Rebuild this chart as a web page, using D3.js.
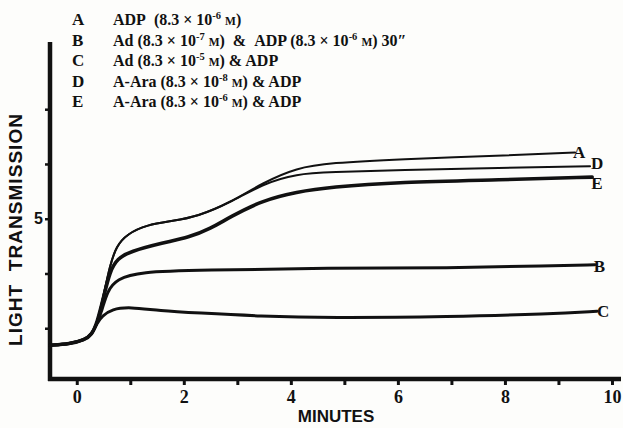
<!DOCTYPE html>
<html>
<head>
<meta charset="utf-8">
<script src="https://cdn.jsdelivr.net/npm/d3@7"></script>
<style>
  body { margin: 0; background: #fdfdfb; }
  svg { display: block; }
</style>
</head>
<body>
<svg id="chart" width="623" height="428"></svg>
<script>
// curves, [minutes, transmission]
const seriesA = [[-0.5,2.69],[-0.13,2.71],[0.15,2.79],[0.28,2.88],[0.38,3.10],[0.49,3.55],[0.62,4.15],[0.74,4.50],[0.94,4.72],[1.31,4.89],[1.80,4.96],[2.25,5.04],[2.86,5.29],[3.48,5.66],[4.11,5.93],[4.73,6.02],[6.04,6.09],[7.91,6.15],[9.31,6.21]];
const seriesD = [[-0.5,2.69],[-0.13,2.71],[0.15,2.79],[0.28,2.88],[0.38,3.10],[0.49,3.55],[0.62,4.15],[0.74,4.50],[0.94,4.72],[1.31,4.89],[1.80,4.96],[2.25,5.04],[2.86,5.29],[3.48,5.64],[4.11,5.82],[4.73,5.85],[6.04,5.89],[7.91,5.93],[9.59,5.96]];
const seriesE = [[-0.5,2.69],[-0.13,2.71],[0.15,2.79],[0.28,2.88],[0.38,3.10],[0.49,3.52],[0.62,4.05],[0.76,4.27],[0.99,4.40],[1.61,4.56],[2.10,4.66],[2.50,4.82],[2.86,5.03],[3.48,5.34],[4.11,5.49],[4.73,5.58],[6.04,5.67],[7.91,5.71],[9.63,5.76]];
const seriesB = [[-0.5,2.69],[-0.13,2.71],[0.15,2.79],[0.28,2.88],[0.38,3.10],[0.47,3.32],[0.57,3.68],[0.75,3.90],[1.18,4.03],[2.30,4.06],[4.73,4.10],[6.97,4.10],[8.84,4.14],[9.68,4.16]];
const seriesC = [[-0.5,2.69],[-0.13,2.71],[0.15,2.79],[0.28,2.88],[0.38,3.10],[0.47,3.22],[0.66,3.35],[0.99,3.39],[1.55,3.32],[2.25,3.28],[3.42,3.22],[4.73,3.19],[6.97,3.21],[8.84,3.26],[9.72,3.31]];

const curveKeys = ["A", "D", "E", "B", "C"];
const xTicks = [0, 1, 2, 3, 4, 5, 6, 7, 8, 9, 10];
const xTickLabels = ["0", "", "2", "", "4", "", "6", "", "8", "", "10"];
const yTicks = [3, 4, 5, 6, 7];
const yTickLabels = ["", "", "5", "", ""];

const legendKeys = ["A", "B", "C", "D", "E"];
const legendPre = ["ADP\u00a0\u00a0(8.3 \u00d7 10", "Ad (8.3 \u00d7 10", "Ad (8.3 \u00d7 10", "A-Ara (8.3 \u00d7 10", "A-Ara (8.3 \u00d7 10"];
const legendExp = ["-6", "-7", "-5", "-8", "-6"];
const legendPost = [" M)", " M)\u00a0\u00a0&\u00a0\u00a0ADP (8.3 \u00d7 10", " M) & ADP", " M) & ADP", " M) & ADP"];
const legendExp2 = ["", "-6", "", "", ""];
const legendTail = ["", " M) 30\u2033", "", "", ""];

let chart = d3.select("#chart");

let x = d3.scaleLinear()
    .domain([-0.5, 10.15])
    .range([50, 620]);

let y = d3.scaleLinear()
    .domain([2, 8.2])
    .range([383, 43.5]);

const serif = "'Liberation Serif', 'DejaVu Serif', serif";
const sans = "'Liberation Sans', Arial, sans-serif";

// x axis
let xAxis = d3.axisBottom(x)
    .tickValues(xTicks)
    .tickSize(6)
    .tickPadding(5)
    .tickFormat(function(d, i) { return xTickLabels[i]; });
let xAxisGroup = chart.append("g")
    .attr("transform", "translate(0,379)")
    .call(xAxis);
xAxisGroup.select(".domain")
    .attr("d", "M48,0H621")
    .attr("stroke", "#111")
    .attr("stroke-width", 4.5);
xAxisGroup.selectAll(".tick line")
    .attr("stroke", "#111")
    .attr("stroke-width", 3);
xAxisGroup.selectAll(".tick text")
    .style("font-family", serif)
    .style("font-weight", "bold")
    .style("font-size", "18px")
    .style("fill", "#111");

// y axis
let yAxis = d3.axisLeft(y)
    .tickValues(yTicks)
    .tickSize(5)
    .tickPadding(2)
    .tickFormat(function(d, i) { return yTickLabels[i]; });
let yAxisGroup = chart.append("g")
    .attr("transform", "translate(50,0)")
    .call(yAxis);
yAxisGroup.select(".domain")
    .attr("d", "M0,42V381")
    .attr("stroke", "#111")
    .attr("stroke-width", 4.5);
yAxisGroup.selectAll(".tick line")
    .attr("stroke", "#111")
    .attr("stroke-width", 2.5);
yAxisGroup.selectAll(".tick text")
    .style("font-family", sans)
    .style("font-weight", "bold")
    .style("font-size", "16px")
    .style("fill", "#111");

// axis titles
chart.append("text")
    .text("LIGHT\u00a0\u00a0TRANSMISSION")
    .attr("transform", "translate(22,230) rotate(-90)")
    .attr("text-anchor", "middle")
    .attr("textLength", 232)
    .attr("lengthAdjust", "spacing")
    .style("font-family", sans)
    .style("font-weight", "bold")
    .style("font-size", "19px")
    .style("fill", "#111");

chart.append("text")
    .text("MINUTES")
    .attr("x", 336)
    .attr("y", 422)
    .attr("text-anchor", "middle")
    .style("font-family", sans)
    .style("font-weight", "bold")
    .style("font-size", "17px")
    .style("fill", "#111");

// curves
let curveData = { A: seriesA, D: seriesD, E: seriesE, B: seriesB, C: seriesC };
let curveWidth = { A: 2, D: 2, E: 3.6, B: 3, C: 3 };

let line = d3.line()
    .x(function(d) { return x(d[0]); })
    .y(function(d) { return y(d[1]); })
    .curve(d3.curveBasis);

chart.selectAll("path.curve")
    .data(curveKeys)
    .enter()
    .append("path")
    .attr("class", "curve")
    .attr("d", function(k) { return line(curveData[k]); })
    .attr("fill", "none")
    .attr("stroke", "#111")
    .attr("stroke-width", function(k) { return curveWidth[k]; })
    .attr("stroke-linecap", "round");

// end labels
let endOffset = { A: [-2, 0], D: [1, -3], E: [-1, 6], B: [-1, 1], C: [0, 0] };
chart.selectAll("text.endlabel")
    .data(curveKeys)
    .enter()
    .append("text")
    .attr("class", "endlabel")
    .attr("x", function(k) { let p = curveData[k][curveData[k].length - 1]; return x(p[0]) + endOffset[k][0]; })
    .attr("y", function(k) { let p = curveData[k][curveData[k].length - 1]; return y(p[1]) + endOffset[k][1] + 6; })
    .text(function(k) { return k; })
    .style("font-family", serif)
    .style("font-weight", "bold")
    .style("font-size", "17px")
    .style("fill", "#111");

// legend
let legend = chart.selectAll("g.legend")
    .data(legendKeys)
    .enter()
    .append("g")
    .attr("class", "legend")
    .attr("transform", function(d, i) { return "translate(0," + (25 + i * 20.5) + ")"; });

legend.append("text")
    .attr("x", 72)
    .text(function(d) { return d; })
    .style("font-family", serif)
    .style("font-weight", "bold")
    .style("font-size", "17px")
    .style("fill", "#111");

let legText = legend.append("text")
    .attr("x", 113)
    .style("font-family", serif)
    .style("font-weight", "bold")
    .style("font-size", "16px")
    .style("fill", "#111");

legText.each(function(d, i) {
    let t = d3.select(this);
    t.append("tspan").text(legendPre[i]);
    t.append("tspan").attr("dy", -6).style("font-size", "10.5px").text(legendExp[i]);
    let post = legendPost[i].split("M");
    t.append("tspan").attr("dy", 6).text(post[0]);
    t.append("tspan").style("font-size", "11.5px").text("M");
    t.append("tspan").text(post[1]);
    if (legendExp2[i]) {
        t.append("tspan").attr("dy", -6).style("font-size", "10.5px").text(legendExp2[i]);
        let tail = legendTail[i].split("M");
        t.append("tspan").attr("dy", 6).text(tail[0]);
        t.append("tspan").style("font-size", "11.5px").text("M");
        t.append("tspan").text(tail[1]);
    }
});
</script>
</body>
</html>
